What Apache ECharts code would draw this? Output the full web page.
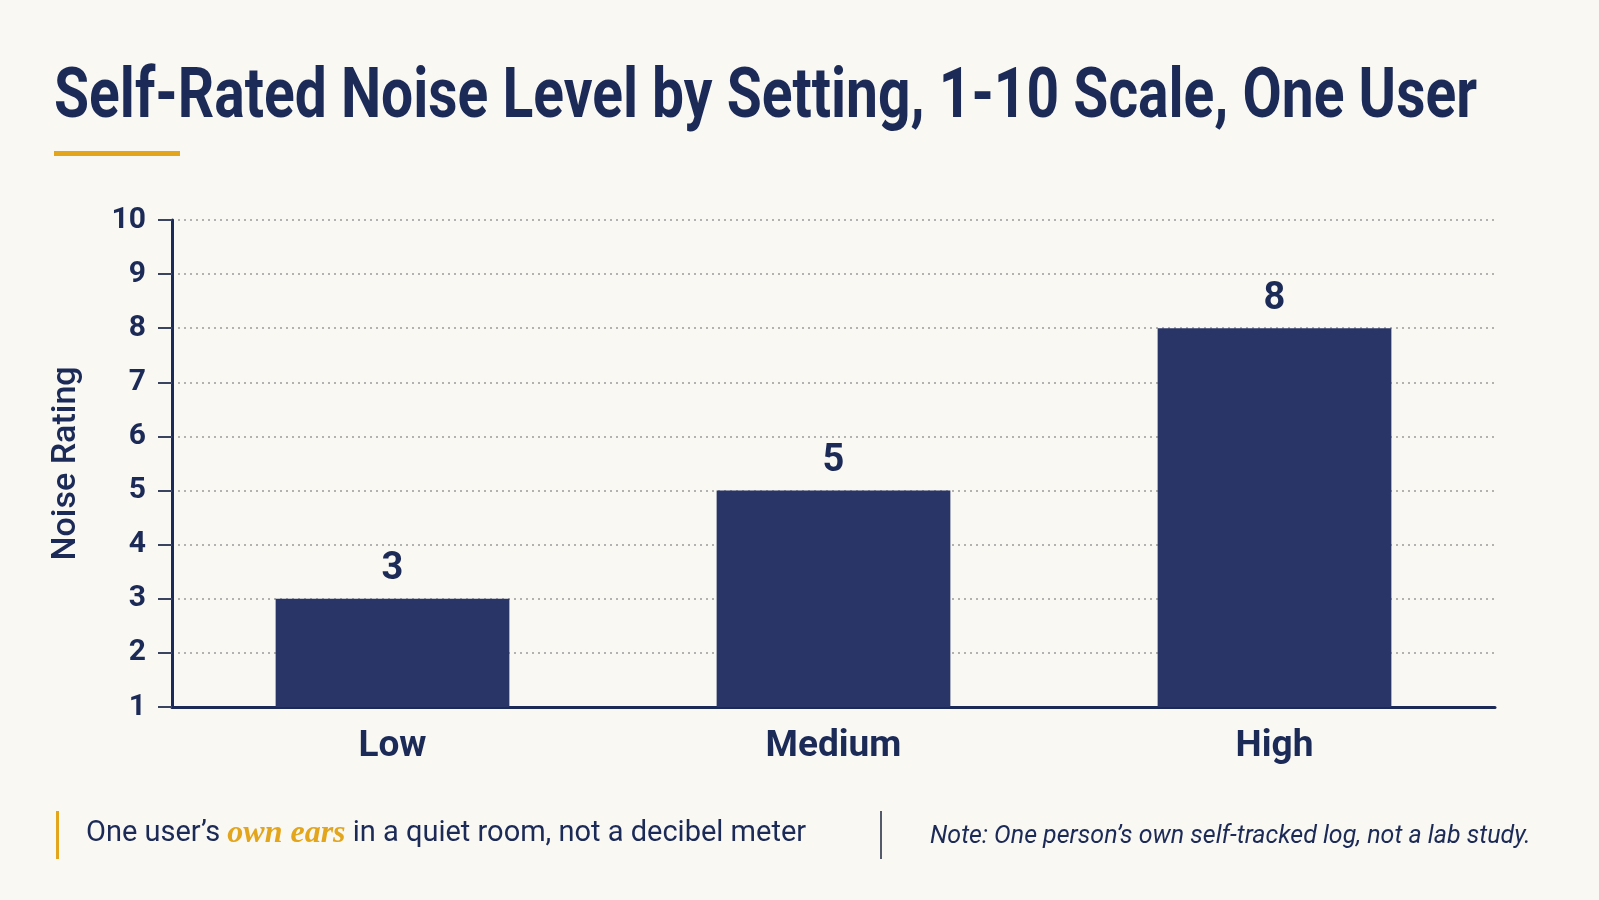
<!DOCTYPE html>
<html>
<head>
<meta charset="utf-8">
<script src="https://cdn.jsdelivr.net/npm/echarts@6/dist/echarts.min.js"></script>
<style>
    html, body { margin: 0; padding: 0; background: #FAF8F2; }
    #chart { width: 1599px; height: 900px; }
</style>
</head>
<body>
<div id="chart"></div>
<script>
// data
var titleText = 'Self-Rated Noise Level by Setting, 1-10 Scale, One User';
var categories = ['Low', 'Medium', 'High'];
var ratings = [3, 5, 8];
var yTicks = [1, 2, 3, 4, 5, 6, 7, 8, 9, 10];

var navy = '#1B2A57';
var barColor = '#283566';
var gold = '#E3A51C';
var sans = "'Roboto', 'Liberation Sans', sans-serif";

// squeeze the title into a condensed look (no condensed font here)
var ctx = document.createElement('canvas').getContext('2d');
ctx.font = 'bold 70px Roboto';
var titleScale = 1423 / ctx.measureText(titleText).width;

var myChart = echarts.init(document.getElementById('chart'));
var option = {
    backgroundColor: '#FAF8F2',
    grid: {
        left: 172,
        right: 104,
        top: 220,
        bottom: 193
    },
    xAxis: {
        type: 'category',
        data: categories,
        axisLine: { lineStyle: { color: navy, width: 3 } },
        axisTick: { show: false },
        axisLabel: {
            margin: 21,
            fontFamily: sans,
            fontSize: 37,
            fontWeight: 'bold',
            color: navy
        }
    },
    yAxis: {
        type: 'value',
        min: yTicks[0],
        max: yTicks[yTicks.length - 1],
        interval: 1,
        name: 'Noise Rating',
        nameLocation: 'middle',
        nameRotate: 90,
        nameGap: 89,
        nameTextStyle: {
            fontFamily: sans,
            fontSize: 34,
            fontWeight: 500,
            color: navy
        },
        axisLine: { show: true, lineStyle: { color: navy, width: 3 } },
        axisTick: { show: true, length: 14, lineStyle: { color: '#3A4460', width: 2 } },
        axisLabel: {
            margin: 26,
            fontFamily: sans,
            fontSize: 30,
            fontWeight: 'bold',
            color: navy
        },
        splitLine: {
            show: true,
            lineStyle: { color: '#9A9A9A', type: [2, 4], width: 1.5 }
        }
    },
    series: [{
        type: 'bar',
        data: ratings,
        barWidth: '53%',
        itemStyle: { color: barColor },
        label: {
            show: true,
            position: 'top',
            distance: 10,
            fontFamily: sans,
            fontSize: 38,
            fontWeight: 'bold',
            color: navy
        }
    }],
    graphic: [
        {
            type: 'text',
            x: 54, y: 64,
            scaleX: titleScale,
            style: {
                text: titleText,
                fontFamily: sans,
                fontSize: 70,
                fontWeight: 'bold',
                fill: navy
            }
        },
        {
            type: 'rect',
            left: 54, top: 151,
            shape: { width: 126, height: 5 },
            style: { fill: gold }
        },
        {
            type: 'rect',
            left: 56, top: 811,
            shape: { width: 3, height: 48 },
            style: { fill: gold }
        },
        {
            type: 'text',
            left: 86, top: 818,
            style: {
                text: '{a|One user\u2019s }{b|own ears}{a| in a quiet room, not a decibel meter}',
                rich: {
                    a: { fontFamily: sans, fontSize: 29, fill: navy },
                    b: { fontFamily: "'Liberation Serif', 'DejaVu Serif', serif", fontSize: 32, fontStyle: 'italic', fontWeight: 'bold', fill: gold }
                }
            }
        },
        {
            type: 'rect',
            left: 880, top: 811,
            shape: { width: 2, height: 48 },
            style: { fill: '#555A6A' }
        },
        {
            type: 'text',
            left: 930, top: 824,
            style: {
                text: 'Note: One person\u2019s own self-tracked log, not a lab study.',
                fontFamily: sans,
                fontStyle: 'italic',
                fontSize: 25,
                fill: navy
            }
        }
    ]
};
myChart.setOption(option);
</script>
</body>
</html>
